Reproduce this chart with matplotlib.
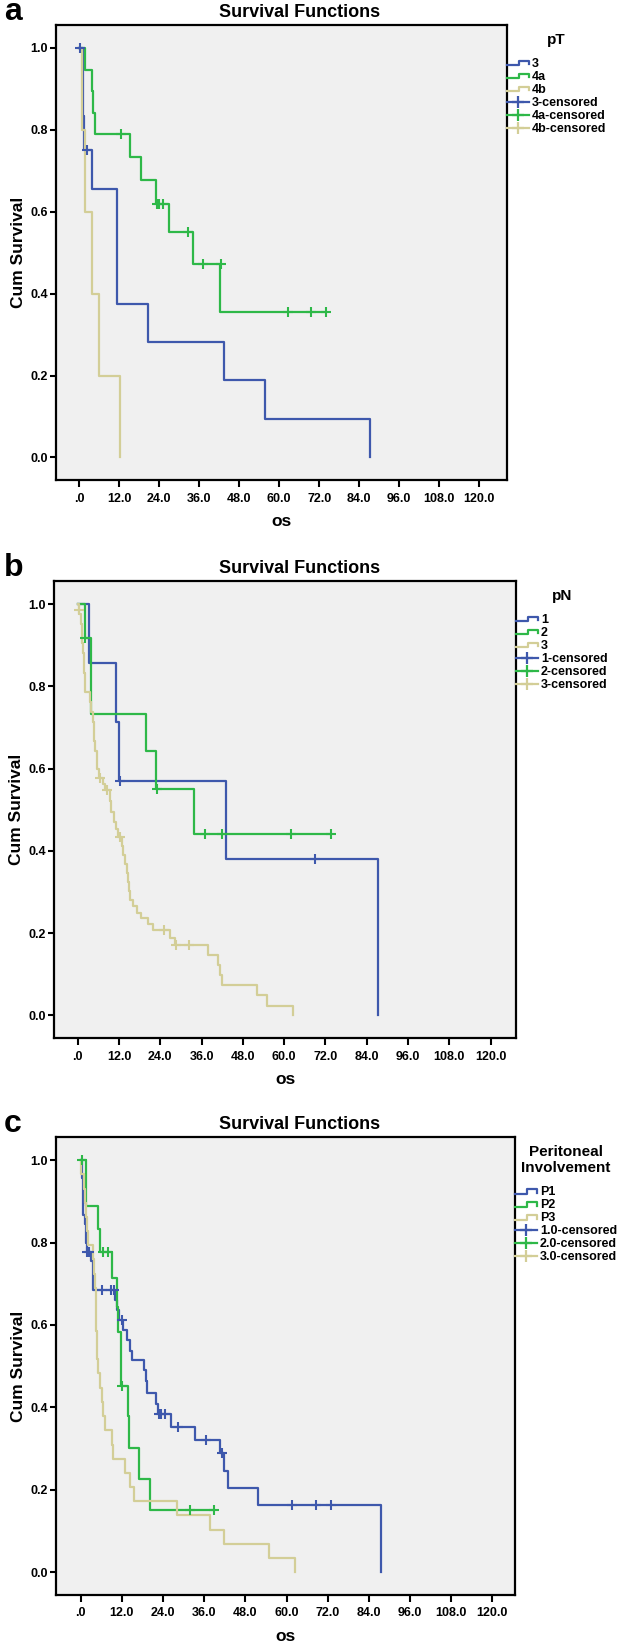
import matplotlib
matplotlib.use("Agg")
import matplotlib.pyplot as plt
from matplotlib.lines import Line2D
from matplotlib.legend_handler import HandlerBase

plt.rcParams['font.family'] = ['Liberation Sans', 'DejaVu Sans']
plt.rcParams['font.weight'] = 'bold'

BLUE = "#3e58ac"
GREEN = "#2eb848"
TAN = "#d3ce97"

# ---- panel a: pT ----
a_t_3 = [0, 1.2, 1.4, 3.8, 11.2, 20.7, 43.5, 55.8, 87.4]
a_s_3 = [1.0, 0.833, 0.75, 0.656, 0.375, 0.281, 0.188, 0.094, 0.0]
a_ct_3 = [0.2, 2.2]
a_cs_3 = [1.0, 0.75]

a_t_4a = [0, 1.8, 3.9, 4.2, 4.8, 15.2, 18.6, 23.1, 26.8, 34.1, 42.3, 74.0]
a_s_4a = [1.0, 0.947, 0.895, 0.842, 0.789, 0.733, 0.677, 0.62, 0.551, 0.473, 0.355, 0.355]
a_ct_4a = [12.5, 23.4, 24.0, 25.0, 32.7, 37.2, 42.6, 62.7, 69.7, 74.0]
a_cs_4a = [0.789, 0.62, 0.62, 0.62, 0.551, 0.473, 0.473, 0.355, 0.355, 0.355]

a_t_4b = [0, 0.7, 1.8, 3.8, 5.9, 12.1]
a_s_4b = [1.0, 0.8, 0.6, 0.4, 0.2, 0.0]

# ---- panel b: pN ----
b_t_1 = [0, 3.4, 11.0, 12.0, 43.2, 87.3]
b_s_1 = [1.0, 0.857, 0.714, 0.571, 0.381, 0.0]
b_ct_1 = [12.3, 68.9]
b_cs_1 = [0.571, 0.381]

b_t_2 = [0, 2.0, 3.8, 19.8, 22.8, 33.9, 73.5]
b_s_2 = [1.0, 0.917, 0.733, 0.642, 0.55, 0.44, 0.44]
b_ct_2 = [2.2, 23.1, 37.0, 41.8, 62.0, 73.5]
b_cs_2 = [0.917, 0.55, 0.44, 0.44, 0.44, 0.44]

b_t_3 = [0, 0.5, 0.9, 1.1, 1.3, 1.5, 1.7, 1.9, 2.0, 2.2, 3.7, 3.9, 4.3, 4.6, 4.8,
         5.1, 5.5, 6.1, 7.4, 7.9, 9.3, 9.8, 10.5, 11.0, 11.6, 12.8, 13.3, 13.8,
         14.2, 14.6, 14.9, 15.3, 16.0, 17.2, 18.5, 20.3, 21.8, 26.8, 28.2, 37.9,
         40.9, 41.5, 41.9, 52.0, 54.9, 62.6]
b_s_3 = [1.0, 0.976, 0.952, 0.929, 0.905, 0.881, 0.857, 0.833, 0.81, 0.786, 0.762,
         0.738, 0.714, 0.69, 0.667, 0.643, 0.60, 0.577, 0.562, 0.547, 0.52, 0.495,
         0.47, 0.452, 0.433, 0.412, 0.39, 0.368, 0.346, 0.324, 0.302, 0.28, 0.265,
         0.25, 0.236, 0.222, 0.207, 0.189, 0.171, 0.146, 0.122, 0.098, 0.073, 0.049,
         0.024, 0.0]
b_ct_3 = [0.3, 6.6, 8.5, 12.3, 25.1, 28.6, 32.3]
b_cs_3 = [0.986, 0.577, 0.547, 0.433, 0.207, 0.171, 0.171]

# ---- panel c: peritoneal involvement ----
c_t_1 = [0, 0.5, 0.7, 0.8, 1.2, 1.4, 1.6, 1.7, 2.9, 3.5, 3.6, 3.7, 10.0, 10.6, 11.2,
         12.2, 13.6, 14.5, 15.0, 18.4, 18.9, 19.2, 22.0, 22.6, 26.3, 33.4, 40.7,
         41.7, 42.8, 51.7, 87.4]
c_s_1 = [1.0, 0.956, 0.912, 0.868, 0.846, 0.824, 0.80, 0.778, 0.755, 0.731, 0.708,
         0.685, 0.66, 0.636, 0.612, 0.588, 0.563, 0.538, 0.514, 0.49, 0.465, 0.435,
         0.408, 0.385, 0.353, 0.321, 0.289, 0.245, 0.204, 0.163, 0.0]
c_ct_1 = [1.8, 2.4, 6.1, 8.9, 9.6, 11.9, 22.9, 23.4, 24.6, 28.5, 36.5, 41.3, 61.7, 68.5, 72.9]
c_cs_1 = [0.778, 0.778, 0.685, 0.685, 0.685, 0.612, 0.385, 0.385, 0.385, 0.353, 0.321,
          0.289, 0.163, 0.163, 0.163]

c_t_2 = [0, 1.5, 4.9, 5.6, 9.1, 10.5, 10.8, 11.7, 13.8, 14.0, 16.9, 20.2, 38.8]
c_s_2 = [1.0, 0.889, 0.833, 0.778, 0.714, 0.643, 0.583, 0.453, 0.378, 0.302, 0.226, 0.151, 0.151]
c_ct_2 = [0.3, 6.4, 7.9, 12.0, 31.9, 38.8]
c_cs_2 = [1.0, 0.778, 0.778, 0.453, 0.151, 0.151]

c_t_3 = [0, 0.1, 1.0, 1.3, 1.6, 1.9, 2.2, 3.7, 4.0, 4.2, 4.4, 4.5, 4.6, 4.7, 4.8, 5.1,
         5.6, 6.1, 6.6, 7.1, 9.1, 9.3, 13.0, 14.4, 15.5, 28.0, 37.7, 41.8, 55.0, 62.4]
c_s_3 = [1.0, 0.966, 0.931, 0.897, 0.862, 0.828, 0.793, 0.759, 0.724, 0.69, 0.655, 0.621,
         0.586, 0.552, 0.517, 0.483, 0.448, 0.414, 0.379, 0.345, 0.31, 0.276, 0.241,
         0.207, 0.172, 0.138, 0.103, 0.069, 0.034, 0.0]

x_ticks = [0, 12, 24, 36, 48, 60, 72, 84, 96, 108, 120]
x_tick_labels = [".0", "12.0", "24.0", "36.0", "48.0", "60.0", "72.0", "84.0", "96.0", "108.0", "120.0"]
y_ticks = [0.0, 0.2, 0.4, 0.6, 0.8, 1.0]
y_tick_labels = ["0.0", "0.2", "0.4", "0.6", "0.8", "1.0"]


class StepHandler(HandlerBase):
    # little step glyph like the SPSS legend
    def create_artists(self, legend, orig_handle, xdescent, ydescent,
                       width, height, fontsize, trans):
        x0 = -xdescent
        xm = x0 + width * 0.55
        x1 = x0 + width
        ylo = -ydescent + height * 0.2
        yhi = -ydescent + height * 0.75
        line = Line2D([x0, xm, xm, x1, x1], [ylo, ylo, yhi, yhi, ylo + height * 0.1],
                      color=orig_handle.get_color(), lw=1.6)
        line.set_transform(trans)
        return [line]


W, H = 624, 1643
fig = plt.figure(figsize=(W / 100, H / 100), dpi=100)

panels = [
    dict(letter="a", box=(56, 25, 507, 480), xlim=(-7.0, 128.4), leg_title="pT",
         curves=[(a_t_3, a_s_3, BLUE), (a_t_4a, a_s_4a, GREEN), (a_t_4b, a_s_4b, TAN)],
         cens=[(a_ct_3, a_cs_3, BLUE), (a_ct_4a, a_cs_4a, GREEN), ([], [], TAN)],
         names=["3", "4a", "4b"], cnames=["3-censored", "4a-censored", "4b-censored"]),
    dict(letter="b", box=(54, 581, 516, 1038), xlim=(-6.9, 127.4), leg_title="pN",
         curves=[(b_t_1, b_s_1, BLUE), (b_t_2, b_s_2, GREEN), (b_t_3, b_s_3, TAN)],
         cens=[(b_ct_1, b_cs_1, BLUE), (b_ct_2, b_cs_2, GREEN), (b_ct_3, b_cs_3, TAN)],
         names=["1", "2", "3"], cnames=["1-censored", "2-censored", "3-censored"]),
    dict(letter="c", box=(56, 1137, 515, 1595), xlim=(-7.2, 126.6),
         leg_title="Peritoneal\nInvolvement",
         curves=[(c_t_1, c_s_1, BLUE), (c_t_2, c_s_2, GREEN), (c_t_3, c_s_3, TAN)],
         cens=[(c_ct_1, c_cs_1, BLUE), (c_ct_2, c_cs_2, GREEN), ([], [], TAN)],
         names=["P1", "P2", "P3"], cnames=["1.0-censored", "2.0-censored", "3.0-censored"]),
]

for p in panels:
    l, t, r, b = p["box"]
    ax = fig.add_axes([l / W, 1 - b / H, (r - l) / W, (b - t) / H])
    ax.set_facecolor("#f0f0f0")

    for tt, ss, col in p["curves"]:
        ax.step(tt, ss, where="post", color=col, lw=1.6)
    for ct, cs, col in p["cens"]:
        if ct:
            ax.plot(ct, cs, ls="none", marker="+", ms=7, mew=1.5, color=col)

    ax.set_xlim(*p["xlim"])
    ax.set_ylim(-0.055, 1.056)
    ax.set_xticks(x_ticks)
    ax.set_xticklabels(x_tick_labels)
    ax.set_yticks(y_ticks)
    ax.set_yticklabels(y_tick_labels)
    ax.tick_params(direction="out", width=1.5, labelsize=9)
    ax.tick_params(axis="x", length=5, pad=4)
    ax.tick_params(axis="y", length=4, pad=2)
    for sp in ax.spines.values():
        sp.set_linewidth(1.6)
    ax.set_xlabel("os", fontsize=12.5, fontweight="bold", labelpad=7)
    ax.set_ylabel("Cum Survival", fontsize=12.5, fontweight="bold", labelpad=3)

    step_h = [Line2D([], [], color=c) for _, _, c in p["curves"]]
    cens_h = [Line2D([], [], color=c, lw=1.6, marker="+", ms=9, mew=1.6) for _, _, c in p["cens"]]
    leg = ax.legend(step_h + cens_h, p["names"] + p["cnames"],
                    handler_map={h: StepHandler() for h in step_h},
                    loc="upper left", bbox_to_anchor=(1.0, 1 - 8 / (b - t)),
                    borderaxespad=0, borderpad=0, frameon=False,
                    prop={"size": 9, "weight": "bold"},
                    title=p["leg_title"], title_fontproperties={"size": 11, "weight": "bold"},
                    handlelength=1.75, handletextpad=0.25, labelspacing=0.08, numpoints=1)
    leg.get_title().set_multialignment("center")
    leg._legend_box.sep = 8

    fig.text(300 / W, 1 - (t - 8) / H, "Survival Functions", ha="center", va="baseline",
             fontsize=13, fontweight="bold")
    fig.text(4 / W, 1 - (t - 5) / H, p["letter"], ha="left", va="baseline",
             fontsize=23, fontweight="bold")

fig.savefig("out.png", dpi=100)
